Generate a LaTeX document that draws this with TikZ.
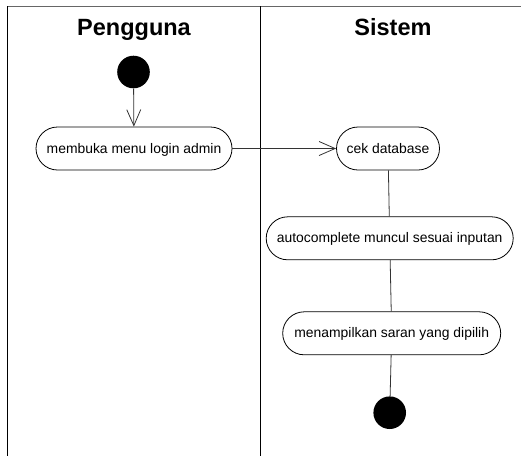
\documentclass[tikz,border=0pt]{standalone}
\usepackage{fontspec}
\setmainfont{Liberation Sans}
\usetikzlibrary{arrows.meta}
\begin{document}
\begin{tikzpicture}[x=1pt,y=-1pt,
  lane/.style={draw=black,line width=1pt},
  lanehead/.style={anchor=base,font=\fontsize{23.5}{28}\selectfont\bfseries},
  action/.style={draw=black,line width=0.8pt,rounded corners=21.5pt,
    minimum height=43pt,inner sep=0pt,text height=11pt,text depth=2pt,
    font=\fontsize{13.9}{16}\selectfont},
  dot/.style={circle,fill=black,minimum size=32.6pt,inner sep=0pt},
  flow/.style={draw=black!80,line width=0.8pt},
  openarrow/.style={-{Straight Barb[length=16pt,width=14pt,line width=0.8pt]}}]
\useasboundingbox (0,0) rectangle (521,456);

% swimlane frame
\draw[draw=black!60,line width=1pt] (7.5,6) -- (521,6);
\draw[lane] (7.5,6) -- (7.5,456);
\draw[lane] (260,6) -- (260,456);
\node[lanehead] (laneuser) at (134,35) {Pengguna};
\node[lanehead] (lanesys) at (393,35) {Sistem};

% activities
\node[dot] (start) at (133.5,72) {};
\node[action,minimum width=196pt] (login) at (134,148.5) {membuka menu login admin};
\node[action,minimum width=103pt] (cek) at (388,148.5) {cek database};
\node[action,minimum width=247pt] (auto) at (389.7,238.3) {autocomplete muncul sesuai inputan};
\node[action,minimum width=218pt] (saran) at (391.7,333.3) {menampilkan saran yang dipilih};
\node[dot] (end) at (389.7,412.7) {};

% control flow
\draw[flow,openarrow] (start) -- (login);
\draw[flow,openarrow] (login) -- (cek);
\draw[flow] (cek) -- (auto);
\draw[flow] (auto) -- (saran);
\draw[flow] (saran) -- (end);
\end{tikzpicture}
\end{document}
